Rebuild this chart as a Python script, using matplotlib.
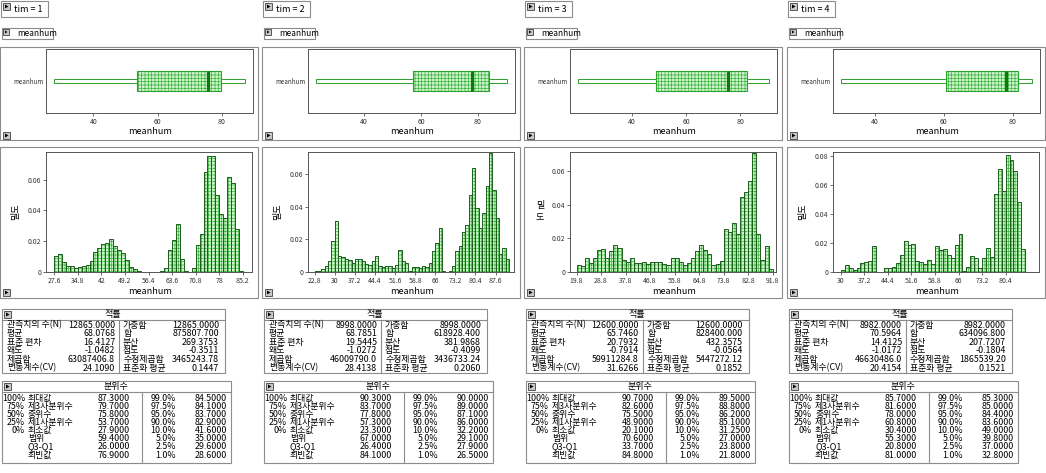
import matplotlib
matplotlib.use("Agg")
import matplotlib.pyplot as plt
import numpy as np
from matplotlib.patches import Rectangle, Polygon
from matplotlib.lines import Line2D

plt.rcParams["font.family"] = ["Noto Sans CJK KR", "DejaVu Sans"]
plt.rcParams["hatch.linewidth"] = 0.5

W, H = 1046, 473

groups = ["tim = 1", "tim = 2", "tim = 3", "tim = 4"]
var_name = "meanhum"
density_label = "밀도"

# histogram bins: first edge, bin width, densities per bin
hist_start = [27.6, 22.8, 19.8, 30.0]
hist_width = [1.2, 1.2, 1.5, 1.2]
hist_ticks = [
    [27.6, 34.8, 42, 49.2, 56.4, 63.6, 70.8, 78, 85.2],
    [22.8, 30, 37.2, 44.4, 51.6, 58.8, 66, 73.2, 80.4, 87.6],
    [19.8, 28.8, 37.8, 46.8, 55.8, 64.8, 73.8, 82.8, 91.8],
    [30, 37.2, 44.4, 51.6, 58.8, 66, 73.2, 80.4],
]
hist_yticks = [
    [0, 0.02, 0.04, 0.06],
    [0, 0.02, 0.04, 0.06],
    [0, 0.02, 0.04, 0.06],
    [0, 0.02, 0.04, 0.06, 0.08],
]
hist_ytop = [0.078, 0.0735, 0.0716, 0.0825]
hist_xlim = [(25.1, 88.0), (20.4, 94.2), (17.4, 93.0), (27.6, 90.6)]

dens_1 = [0.0106, 0.012, 0.0065, 0.004, 0.0037, 0.0026, 0.003, 0.0037, 0.0048, 0.007,
          0.0128, 0.0156, 0.018, 0.019, 0.0214, 0.017, 0.0145, 0.0123, 0.008, 0.003,
          0.0022, 0.0009, 0.0003, 0.0, 0.0, 0.0, 0.0, 0.0005, 0.0026, 0.0145,
          0.0205, 0.031, 0.0086, 0.0004, 0.0, 0.0026, 0.0177, 0.025, 0.065, 0.0757,
          0.0757, 0.050, 0.038, 0.035, 0.0616, 0.0577, 0.028, 0.0006, 0.0003]
dens_2 = [0.0004, 0.0008, 0.002, 0.0035, 0.007, 0.019, 0.031, 0.010, 0.009, 0.008,
          0.0076, 0.0055, 0.008, 0.008, 0.007, 0.005, 0.0045, 0.007, 0.010, 0.0035,
          0.003, 0.0035, 0.0035, 0.0025, 0.004, 0.0137, 0.007, 0.0055, 0.0008, 0.003,
          0.003, 0.0025, 0.0035, 0.003, 0.0055, 0.0127, 0.0178, 0.027, 0.0008, 0.0,
          0.0004, 0.0035, 0.013, 0.016, 0.0246, 0.029, 0.047, 0.0636, 0.039, 0.0267,
          0.036, 0.0527, 0.0726, 0.050, 0.033, 0.011, 0.0144, 0.008]
dens_3 = [0.0044, 0.0034, 0.0084, 0.0054, 0.0084, 0.0134, 0.014, 0.0084, 0.0128, 0.0164,
          0.0142, 0.0074, 0.006, 0.0084, 0.0054, 0.0054, 0.006, 0.0048, 0.0058, 0.0058,
          0.006, 0.005, 0.0044, 0.0084, 0.0084, 0.006, 0.004, 0.0054, 0.0084, 0.0128,
          0.0164, 0.0134, 0.0108, 0.0044, 0.005, 0.0068, 0.0258, 0.024, 0.029, 0.0224,
          0.045, 0.048, 0.054, 0.0708, 0.0228, 0.0074, 0.0158, 0.0018]
dens_4 = [0.0011, 0.0046, 0.0028, 0.0014, 0.0028, 0.0062, 0.0069, 0.0078, 0.0177, 0.0,
          0.0, 0.0028, 0.003, 0.0034, 0.0062, 0.012, 0.0216, 0.0188, 0.0195, 0.0078,
          0.0069, 0.0055, 0.008, 0.0057, 0.0177, 0.0154, 0.016, 0.012, 0.0096, 0.0183,
          0.0261, 0.0007, 0.0034, 0.0112, 0.0096, 0.0028, 0.0096, 0.0163, 0.0106, 0.0539,
          0.0711, 0.0555, 0.0807, 0.0773, 0.0697, 0.0482, 0.0158]
densities = [dens_1, dens_2, dens_3, dens_4]

box_ticks = [40, 60, 80]

# moments table
mom_labels_l = ["관측치의 수(N)", "평균", "표준 편차", "왜도", "제곱합", "변동계수(CV)"]
mom_labels_r = ["가중합", "합", "분산", "첨도", "수정제곱합", "표준화 평균"]
mom_fmt_l = ["%.4f", "%.4f", "%.4f", "%.4f", "%.1f", "%.4f"]
mom_fmt_r = ["%.4f", "%.3f", "%.4f", "%.4f", "%.2f", "%.4f"]
mom_l = [
    [12865, 68.0768, 16.4127, -1.0482, 63087406.8, 24.1090],
    [8998, 68.7851, 19.5445, -1.0272, 46009790.0, 28.4138],
    [12600, 65.7460, 20.7932, -0.7914, 59911284.8, 31.6266],
    [8982, 70.5964, 14.4125, -1.0172, 46630486.0, 20.4154],
]
mom_r = [
    [12865, 875807.700, 269.3753, -0.3511, 3465243.78, 0.1447],
    [8998, 618928.400, 381.9868, -0.4099, 3436733.24, 0.2060],
    [12600, 828400.000, 432.3575, -0.0564, 5447272.12, 0.1852],
    [8982, 634096.800, 207.7207, -0.1804, 1865539.20, 0.1521],
]

# quantile table
q_pct_l = ["100%", "75%", "50%", "25%", "0%", "", "", ""]
q_labels = ["최대값", "제3사분위수", "중위수", "제1사분위수", "최소값", "범위", "Q3-Q1", "최빈값"]
q_pct_r = ["99.0%", "97.5%", "95.0%", "90.0%", "10.0%", "5.0%", "2.5%", "1.0%"]
q_l = [
    [87.3, 79.7, 75.8, 53.7, 27.9, 59.4, 26.0, 76.9],
    [90.3, 83.7, 77.8, 57.3, 23.3, 67.0, 26.4, 84.1],
    [90.7, 82.6, 75.5, 48.9, 20.1, 70.6, 33.7, 84.8],
    [85.7, 81.6, 78.0, 60.8, 30.4, 55.3, 20.8, 81.0],
]
q_r = [
    [84.5, 84.1, 83.7, 82.9, 41.6, 35.0, 29.6, 28.6],
    [90.0, 89.0, 87.1, 86.0, 32.2, 29.1, 27.9, 26.5],
    [89.5, 88.8, 86.2, 85.1, 31.25, 27.0, 23.8, 21.8],
    [85.3, 85.0, 84.4, 83.6, 49.0, 39.8, 37.0, 32.8],
]

col_x = [0, 262, 524, 787]

FILL = "#cdf4cd"
HATCH = "#3cb43c"
EDGE = "#1d5e1d"
FRAME = "#8c8c8c"

fig = plt.figure(figsize=(W / 100, H / 100), dpi=100)
fig.patch.set_facecolor("white")


def rect(x0, y0, x1, y1, ec=FRAME, fc="none", lw=0.8):
    fig.add_artist(Rectangle((x0 / W, 1 - y1 / H), (x1 - x0) / W, (y1 - y0) / H,
                             transform=fig.transFigure, facecolor=fc, edgecolor=ec, linewidth=lw))


def line(x0, y0, x1, y1, color=FRAME, lw=0.8):
    fig.add_artist(Line2D([x0 / W, x1 / W], [1 - y0 / H, 1 - y1 / H],
                          transform=fig.transFigure, color=color, linewidth=lw))


def txt(x, y, s, size=6.4, **kw):
    kw.setdefault("va", "center")
    fig.text(x / W, 1 - y / H, s, fontsize=size, color="black", **kw)


def icon(x, y, s=7):
    rect(x, y, x + s, y + s, ec="#404040", fc="#c8c8c8", lw=0.6)
    tri = [(x + 2, y + 1.5), (x + 2, y + s - 1.5), (x + s - 1.5, y + s / 2)]
    fig.add_artist(Polygon([(a / W, 1 - b / H) for a, b in tri], closed=True,
                           transform=fig.transFigure, facecolor="black", edgecolor="none"))


def px_axes(x0, y0, x1, y1):
    return fig.add_axes([x0 / W, 1 - y1 / H, (x1 - x0) / W, (y1 - y0) / H])


def style_axes(ax):
    for sp in ax.spines.values():
        sp.set_color("#555555")
        sp.set_linewidth(0.7)
    ax.tick_params(labelsize=5, length=2, width=0.5, pad=1.5, colors="#333333")


for k in range(4):
    ox = col_x[k]

    # header buttons
    rect(ox + 1, 1, ox + 48, 17)
    icon(ox + 3, 3)
    txt(ox + 14, 9.5, groups[k], size=6.5)
    rect(ox + 2, 28, ox + 53, 39)
    icon(ox + 3, 29, s=6)
    txt(ox + 17, 33.5, var_name, size=6)

    # box plot
    rect(ox, 47, ox + 258, 140)
    icon(ox + 3, 132)
    ax = px_axes(ox + 46, 49, ox + 253, 113)
    qmax, q3, med, q1, qmin = q_l[k][0], q_l[k][1], q_l[k][2], q_l[k][3], q_l[k][4]
    span = qmax - qmin
    ax.set_xlim(qmin - 0.044 * span, qmax + 0.04 * span)
    ax.set_ylim(-1, 1)
    ax.add_patch(Rectangle((qmin, -0.05), q1 - qmin, 0.1, facecolor="white", edgecolor="#2ca02c", lw=0.7))
    ax.add_patch(Rectangle((q3, -0.05), qmax - q3, 0.1, facecolor="white", edgecolor="#2ca02c", lw=0.7))
    ax.add_patch(Rectangle((q1, -0.31), q3 - q1, 0.62, facecolor=FILL, edgecolor=HATCH,
                           hatch="+++++", lw=0))
    ax.add_patch(Rectangle((q1, -0.31), q3 - q1, 0.62, facecolor="none", edgecolor="#2ca02c", lw=0.8))
    ax.plot([med, med], [-0.31, 0.31], color="#0a7a0a", lw=2.2, solid_capstyle="butt")
    ax.set_xticks(box_ticks)
    ax.set_yticks([0])
    ax.set_yticklabels([var_name])
    style_axes(ax)
    ax.tick_params(axis="y", length=0, labelsize=4.5)
    txt(ox + 150, 131, var_name, size=6.5, ha="center")

    # histogram
    rect(ox, 147, ox + 258, 298)
    icon(ox + 3, 289)
    ax = px_axes(ox + 46, 152, ox + 252, 272)
    d = densities[k]
    edges = hist_start[k] + hist_width[k] * np.arange(len(d))
    ax.bar(edges, d, width=hist_width[k], align="edge", color=FILL, edgecolor=HATCH,
           hatch="+++++", linewidth=0)
    ax.bar(edges, d, width=hist_width[k], align="edge", fill=False, edgecolor=EDGE, linewidth=0.7)
    ax.set_xlim(*hist_xlim[k])
    ax.set_ylim(0, hist_ytop[k])
    ax.set_xticks(hist_ticks[k])
    ax.set_xticklabels([("%g" % t) for t in hist_ticks[k]])
    ax.set_yticks(hist_yticks[k])
    ax.set_yticklabels(["0" if t == 0 else "%.2f" % t for t in hist_yticks[k]])
    style_axes(ax)
    txt(ox + 150, 291, var_name, size=6.5, ha="center")
    if k == 2:
        txt(ox + 16, 205, density_label[0], size=6.5, ha="center")
        txt(ox + 16, 218, density_label[1], size=6.5, ha="center")
    else:
        txt(ox + 16, 212, density_label, size=6.5, ha="center", rotation=90)

    # moments table
    rect(ox + 2, 309, ox + 225, 373)
    line(ox + 2, 320, ox + 225, 320)
    line(ox + 119, 320, ox + 119, 373)
    icon(ox + 4, 311)
    txt(ox + 113, 314.5, "적률", size=6.5, ha="center")
    for i in range(6):
        y = 325 + 8.6 * i
        txt(ox + 7, y, mom_labels_l[i])
        txt(ox + 115, y, mom_fmt_l[i] % mom_l[k][i], ha="right")
        txt(ox + 123, y, mom_labels_r[i])
        txt(ox + 219, y, mom_fmt_r[i] % mom_r[k][i], ha="right")

    # quantile table
    rect(ox + 2, 381, ox + 231, 463)
    line(ox + 2, 392, ox + 231, 392)
    line(ox + 142, 392, ox + 142, 463)
    icon(ox + 4, 383)
    txt(ox + 116, 386.5, "분위수", size=6.5, ha="center")
    for i in range(8):
        y = 398 + 8.15 * i
        txt(ox + 25, y, q_pct_l[i], ha="right")
        txt(ox + 28, y, q_labels[i])
        txt(ox + 130, y, "%.4f" % q_l[k][i], ha="right")
        txt(ox + 176, y, q_pct_r[i], ha="right")
        txt(ox + 227, y, "%.4f" % q_r[k][i], ha="right")

fig.savefig("out.png", dpi=100)
